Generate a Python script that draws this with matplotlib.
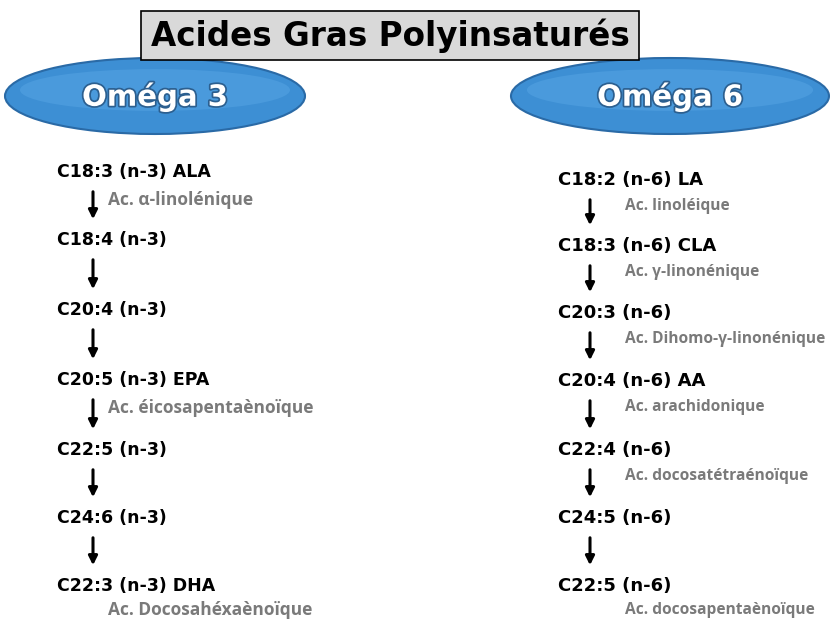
import matplotlib
matplotlib.use("Agg")
import matplotlib.pyplot as plt
from matplotlib.patches import Ellipse, Rectangle, FancyArrowPatch
import matplotlib.patheffects as pe

title = "Acides Gras Polyinsaturés"
group_names = ["Oméga 3", "Oméga 6"]

omega3_acids = ["C18:3 (n-3) ALA", "C18:4 (n-3)", "C20:4 (n-3)", "C20:5 (n-3) EPA",
                "C22:5 (n-3)", "C24:6 (n-3)", "C22:3 (n-3) DHA"]
omega3_names = ["Ac. α-linolénique", "", "", "Ac. éicosapentaènoïque", "", "",
                "Ac. Docosahéxaènoïque"]

omega6_acids = ["C18:2 (n-6) LA", "C18:3 (n-6) CLA", "C20:3 (n-6)", "C20:4 (n-6) AA",
                "C22:4 (n-6)", "C24:5 (n-6)", "C22:5 (n-6)"]
omega6_names = ["Ac. linoléique", "Ac. γ-linonénique", "Ac. Dihomo-γ-linonénique",
                "Ac. arachidonique", "Ac. docosatétraénoïque", "", "Ac. docosapentaènoïque"]

# layout (pixels)
W, H = 830, 623
fig = plt.figure(figsize=(W / 100, H / 100), dpi=100)
ax = fig.add_axes([0, 0, 1, 1])
ax.set_xlim(0, W)
ax.set_ylim(H, 0)
ax.axis("off")

bold_font = ["DejaVu Sans"]
sub_font = ["Open Sans", "DejaVu Sans"]

# ellipses
ell_specs = [(155, 96, 300, 76), (670, 96, 318, 76)]
for (cx, cy, w, h), name in zip(ell_specs, group_names):
    ax.add_patch(Ellipse((cx, cy), w, h, facecolor="#3d8fd4", edgecolor="#2a6aa6", lw=1.5, zorder=1))
    ax.add_patch(Ellipse((cx, cy - 6), w * 0.9, h * 0.55, facecolor="#5aa8e6", edgecolor="none", alpha=0.45, zorder=1))
    ax.text(cx, cy + 1, name, ha="center", va="center", fontsize=21, fontweight="bold",
            family=bold_font, color="white", zorder=3,
            path_effects=[pe.withStroke(linewidth=2.5, foreground="#2c5f8f")])

# title box
ax.add_patch(Rectangle((141, 11), 498, 49, facecolor="#d9d9d9", edgecolor="black", lw=1.2, zorder=4))
ax.text(390, 36, title, ha="center", va="center", fontsize=23.5, fontweight="heavy",
        family=bold_font, color="black", zorder=5)

def column(acids, names, x, ys, sub_dx, sub_dys, arrow_x, fs, sfs):
    for i, (a, n) in enumerate(zip(acids, names)):
        y = ys[i]
        ax.text(x, y, a, ha="left", va="center", fontsize=fs, fontweight="heavy",
                family=bold_font, color="black")
        if n:
            ax.text(x + sub_dx, y + sub_dys[i], n, ha="left", va="center", fontsize=sfs,
                    fontweight="bold", family=sub_font, color="#7a7a7a")
        if i < len(acids) - 1:
            y0 = y + 17
            y1 = ys[i + 1] - 18
            ax.add_patch(FancyArrowPatch((arrow_x, y0), (arrow_x, y1), arrowstyle="-|>",
                                         mutation_scale=13, lw=2.2, color="black"))

left_y = [172, 240, 310, 380, 450, 518, 586]
right_y = [180, 246, 313, 381, 450, 518, 586]
column(omega3_acids, omega3_names, 57, left_y, 51, [28] * 6 + [24], 93, 12.5, 12.5)
column(omega6_acids, omega6_names, 558, right_y, 67, [26] * 6 + [24], 590, 13, 11.2)

fig.savefig("out.png", dpi=100, facecolor="white")
